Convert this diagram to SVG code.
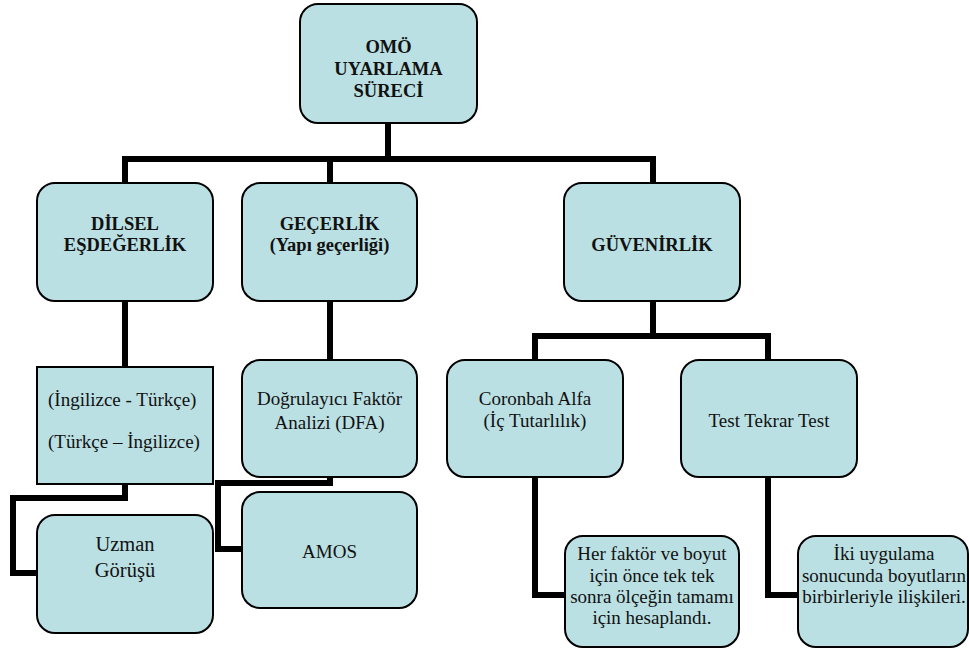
<svg xmlns="http://www.w3.org/2000/svg" width="969" height="656" viewBox="0 0 969 656">
<style>
.box{fill:#BAE0E3;stroke:#000;stroke-width:2}
.con{fill:none;stroke:#000;stroke-width:6;stroke-linejoin:miter;stroke-linecap:square}
text{font-family:"Liberation Serif","Times New Roman",serif;fill:#111;text-anchor:middle}
.b{font-weight:bold;font-size:18.5px}
.r{font-size:19px}
</style>
<rect width="969" height="656" fill="#fff"/>
<g id="connectors">
<polyline class="con" points="388,123 388,159"/>
<polyline class="con" points="125,183 125,159 653,159 653,183"/>
<polyline class="con" points="330,159 330,183"/>
<polyline class="con" points="125,301 125,367"/>
<polyline class="con" points="125,484 125,498 13,498 13,573 37,573"/>
<polyline class="con" points="330,301 330,360"/>
<polyline class="con" points="330,477 330,483 218,483 218,549 242,549"/>
<polyline class="con" points="653,301 653,336"/>
<polyline class="con" points="535,360 535,336 768,336 768,360"/>
<polyline class="con" points="535,477 535,595 565,595"/>
<polyline class="con" points="768,477 768,595 798,595"/>
</g>
<g id="omo">
<rect class="box" x="300" y="4" width="177" height="119" rx="18"/>
<text class="b" x="388.5" y="53">OMÖ</text>
<text class="b" x="388.5" y="75">UYARLAMA</text>
<text class="b" x="388.5" y="97">SÜRECİ</text>
</g>
<g id="dilsel">
<rect class="box" x="37" y="183" width="176" height="118" rx="18"/>
<text class="b" x="125" y="230">DİLSEL</text>
<text class="b" x="125" y="251">EŞDEĞERLİK</text>
</g>
<g id="gecerlik">
<rect class="box" x="242" y="183" width="175" height="118" rx="18"/>
<text class="b" x="329.5" y="230">GEÇERLİK</text>
<text class="b" x="329.5" y="251">(Yapı geçerliği)</text>
</g>
<g id="guvenirlik">
<rect class="box" x="564" y="183" width="176" height="118" rx="18"/>
<text class="b" x="652" y="251">GÜVENİRLİK</text>
</g>
<g id="ingilizce">
<rect class="box" x="37" y="367" width="176" height="117"/>
<text class="r" x="48" y="406" style="text-anchor:start">(İngilizce - Türkçe)</text>
<text class="r" x="48" y="448" style="text-anchor:start">(Türkçe – İngilizce)</text>
</g>
<g id="uzman">
<rect class="box" x="37" y="515" width="176" height="118" rx="18"/>
<text x="125" y="551" style="font-size:20.5px">Uzman</text>
<text x="125" y="577" style="font-size:20.5px">Görüşü</text>
</g>
<g id="dfa">
<rect class="box" x="242" y="360" width="175" height="117" rx="18"/>
<text class="r" x="329.5" y="405">Doğrulayıcı Faktör</text>
<text class="r" x="329.5" y="429">Analizi (DFA)</text>
</g>
<g id="amos">
<rect class="box" x="242" y="492" width="175" height="116" rx="18"/>
<text class="r" x="329.5" y="558">AMOS</text>
</g>
<g id="coronbah">
<rect class="box" x="447" y="360" width="176" height="117" rx="18"/>
<text class="r" x="535" y="405">Coronbah Alfa</text>
<text class="r" x="535" y="427">(İç Tutarlılık)</text>
</g>
<g id="testtekrar">
<rect class="box" x="681" y="360" width="176" height="117" rx="18"/>
<text class="r" x="769" y="427">Test Tekrar Test</text>
</g>
<g id="herfaktor">
<rect class="box" x="565" y="536" width="174" height="111" rx="18"/>
<text class="r" x="652" y="560">Her faktör ve boyut</text>
<text class="r" x="652" y="582">için önce tek tek</text>
<text class="r" x="652" y="603">sonra ölçeğin tamamı</text>
<text class="r" x="652" y="624">için hesaplandı.</text>
</g>
<g id="iki">
<rect class="box" x="798" y="536" width="170" height="111" rx="18"/>
<text class="r" x="884" y="560">İki uygulama</text>
<text class="r" x="884" y="582">sonucunda boyutların</text>
<text class="r" x="884" y="603">birbirleriyle ilişkileri.</text>
</g>
</svg>
